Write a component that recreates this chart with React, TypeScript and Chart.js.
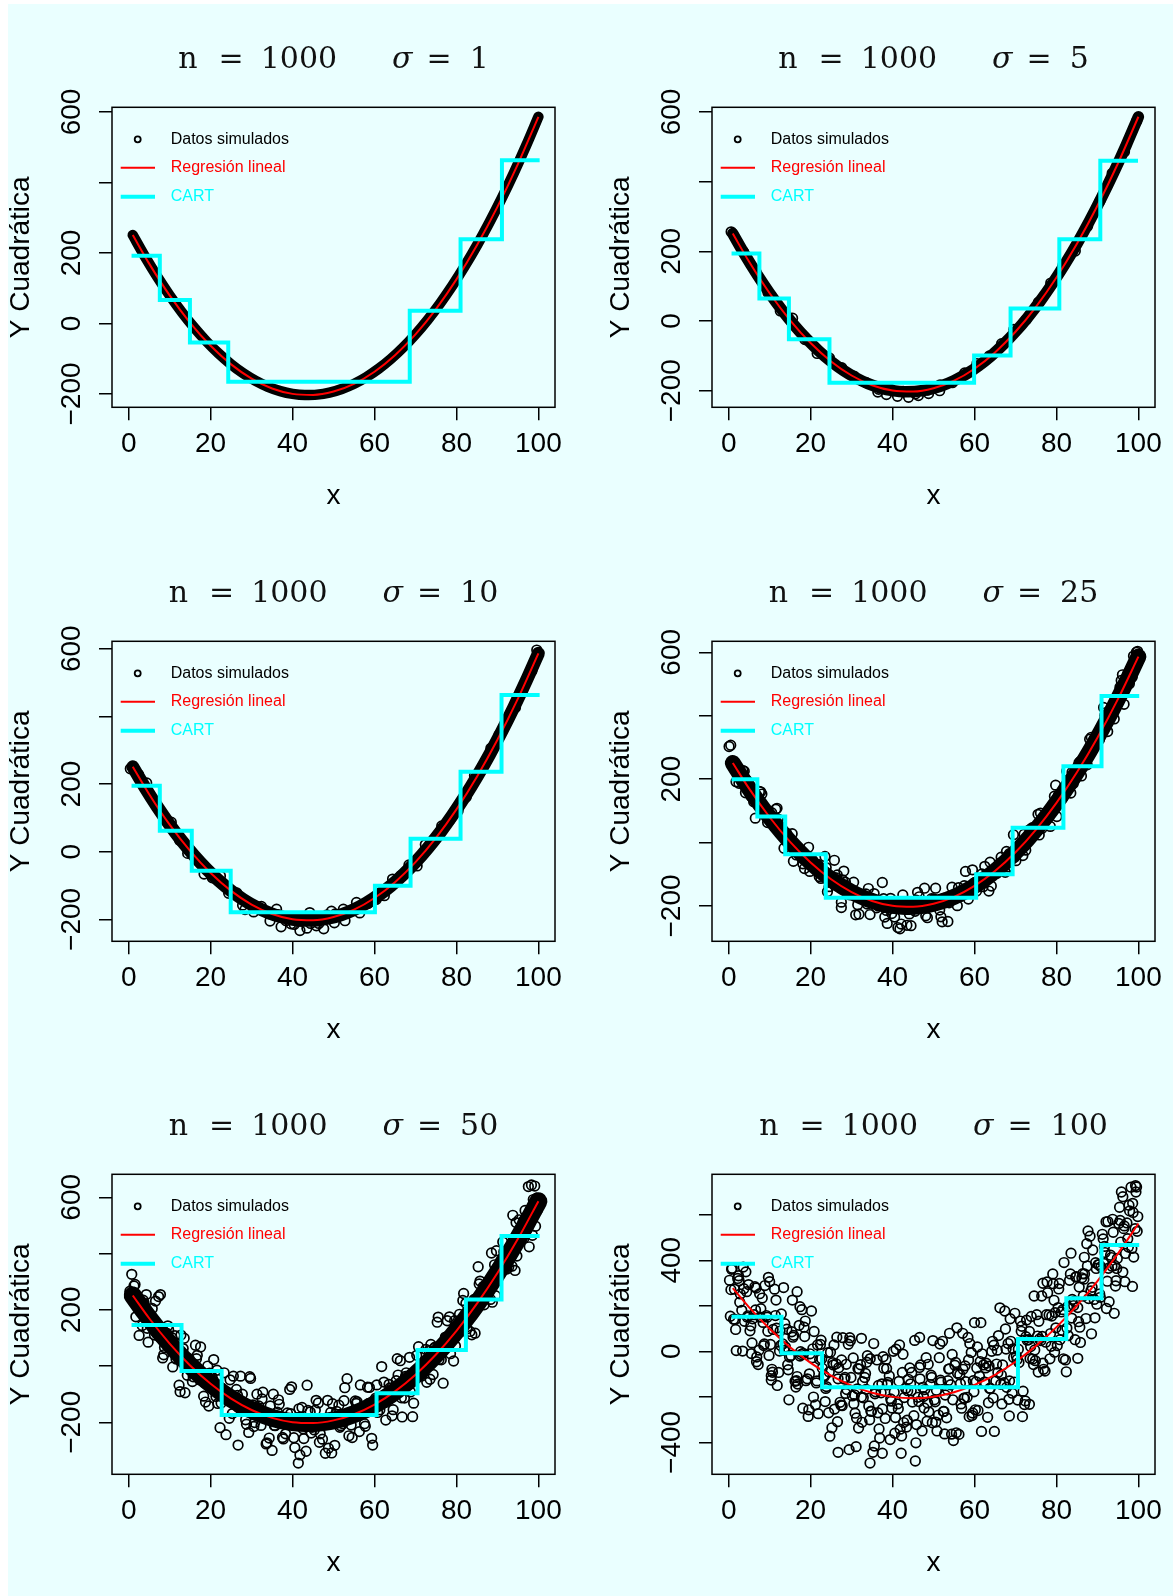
import React, { useEffect, useRef } from 'react';
import { Chart, registerables } from 'chart.js';

Chart.register(...registerables);

// ---------------- data ----------------
const nObs = 1000;
const xTicks = [0, 20, 40, 60, 80, 100];
const yTicksA = [-200, 0, 200, 400, 600];
const yTicksB = [-400, -200, 0, 200, 400, 600];
const yLabA = [-200, 0, 200, 600];
const yLabB = [-200, 200, 600];
const yLabC = [-400, 0, 400];

// fitted quadratic regression
const regX = [1, 5, 10, 15, 20, 25, 30, 35, 40, 45, 50, 55, 60, 65, 70, 75, 80, 85, 90, 95, 100];
const regY = [251.0, 169.9, 79.8, 2.1, -63.1, -115.9, -156.3, -184.2, -199.6, -202.6, -193.1, -171.2, -136.8, -90.0, -30.8, 40.9, 125.1, 221.7, 330.8, 452.3, 586.3];
const regY100 = [277.4, 193.2, 99.2, 17.8, -51.0, -107.2, -150.8, -181.8, -200.2, -206.0, -199.2, -179.8, -147.8, -103.2, -46.0, 23.8, 106.2, 201.2, 308.8, 429.0, 561.8];

// centre of the dense band of simulated points
const bandX = [1, 4, 7, 10, 13, 16, 19, 22, 25, 28, 31, 34, 37, 40, 43, 46, 49, 52, 55, 58, 61, 64, 67, 70, 73, 76, 79, 82, 85, 88, 91, 94, 97, 100];
const bandY = [251.0, 189.4, 132.4, 79.8, 31.7, -11.9, -51.1, -85.7, -115.9, -141.6, -162.8, -179.6, -191.8, -199.6, -202.9, -201.7, -196.0, -185.8, -171.2, -152.1, -128.5, -100.4, -67.8, -30.8, 10.8, 56.8, 107.3, 162.3, 221.7, 285.7, 354.1, 427.0, 504.4, 586.3];

// CART step predictions (start of each step, last = end of final step)
const cartX1 = [0.7, 7.6, 14.95, 24.3, 68.6, 81.0, 91.1, 100.3];
const cartY1 = [192, 67, -54, -165, 36, 239, 463, 463];
const cartX2 = [0.7, 7.5, 14.7, 24.6, 59.9, 68.8, 80.7, 90.7, 99.9];
const cartY2 = [194, 65, -52, -177, -99, 36, 235, 460, 460];
const cartX3 = [0.7, 7.6, 15.4, 24.9, 60.1, 68.8, 81.0, 91.0, 100.3];
const cartY3 = [195, 62, -56, -179, -101, 38, 236, 463, 463];
const cartX4 = [0.7, 7.0, 13.8, 23.7, 60.4, 69.3, 81.7, 91.0, 100.2];
const cartY4 = [200, 82, -37, -174, -100, 47, 241, 462, 462];
const cartX5 = [0.7, 12.9, 22.7, 60.5, 70.5, 82.3, 91.0, 100.3];
const cartY5 = [146, -18, -174, -97, 57, 237, 462, 462];
const cartX6 = [0.7, 12.9, 22.8, 70.6, 82.4, 91.0, 100.2];
const cartY6 = [152, -9, -158, 54, 233, 467, 467];

// visible simulated points (estimated)
const sim1: [number, number][] = [];
const sim5: [number, number][] = [[0.6,256],[3.6,199],[6.6,144],[9.6,81],[12.6,29],[15.6,8],[18.6,-53],[21.6,-93],[24.6,-106],[27.6,-134],[30.6,-158],[33.6,-177],[36.6,-196],[39.6,-196],[42.6,-202],[45.6,-209],[48.6,-198],[51.6,-183],[54.6,-177],[57.6,-149],[60.6,-122],[63.6,-100],[66.6,-65],[69.6,-24],[72.6,4],[75.6,54],[78.6,109],[81.6,161],[84.6,201],[87.6,272],[90.6,344],[93.6,424],[96.6,486],[99.6,574],[38.5,-211],[41.2,-216],[43.9,-219],[46.3,-214],[48.8,-208],[36.4,-204],[51.5,-200]];
const sim10: [number, number][] = [[0.4,245],[2.4,228],[4.4,203],[6.4,144],[8.4,106],[10.4,87],[12.4,34],[14.4,-5],[16.4,-18],[18.4,-66],[20.4,-77],[22.4,-72],[24.4,-123],[26.4,-122],[28.4,-171],[30.4,-158],[32.4,-162],[34.4,-184],[36.4,-186],[38.4,-204],[40.4,-215],[42.4,-198],[44.4,-212],[46.4,-212],[48.4,-187],[50.4,-184],[52.4,-170],[54.4,-173],[56.4,-181],[58.4,-153],[60.4,-141],[62.4,-130],[64.4,-81],[66.4,-71],[68.4,-39],[70.4,-42],[72.4,21],[74.4,35],[76.4,76],[78.4,94],[80.4,120],[82.4,162],[84.4,225],[86.4,253],[88.4,306],[90.4,346],[92.4,386],[94.4,426],[96.4,486],[98.4,534],[34.5,-205],[37.2,-222],[39.6,-213],[41.8,-233],[43.5,-226],[45.8,-219],[47.6,-228],[50.2,-210],[52.8,-204],[36.1,-170],[44.2,-180],[49.5,-176],[55.6,-150],[30.5,-178],[27.8,-158],[99.6,596]];
const sim25: [number, number][] = [[0.5,307],[1.5,231],[2.5,187],[3.5,227],[4.5,195],[5.5,145],[6.5,77],[7.5,161],[8.5,108],[9.5,63],[10.5,94],[11.5,105],[12.5,32],[13.5,-18],[14.5,19],[15.5,28],[16.5,-39],[17.5,-32],[18.5,-82],[19.5,-15],[20.5,-56],[21.5,-85],[22.5,-113],[23.5,-44],[24.5,-139],[25.5,-113],[26.5,-102],[27.5,-188],[28.5,-125],[29.5,-165],[30.5,-125],[31.5,-196],[32.5,-167],[33.5,-162],[34.5,-227],[35.5,-161],[36.5,-200],[37.5,-126],[38.5,-214],[39.5,-176],[40.5,-235],[41.5,-199],[42.5,-165],[43.5,-261],[44.5,-193],[45.5,-217],[46.5,-171],[47.5,-202],[48.5,-237],[49.5,-177],[50.5,-144],[51.5,-213],[52.5,-176],[53.5,-249],[54.5,-141],[55.5,-168],[56.5,-170],[57.5,-136],[58.5,-178],[59.5,-86],[60.5,-153],[61.5,-112],[62.5,-75],[63.5,-153],[64.5,-90],[65.5,-97],[66.5,-46],[67.5,-94],[68.5,-35],[69.5,25],[70.5,-29],[71.5,0],[72.5,-24],[73.5,41],[74.5,26],[75.5,89],[76.5,45],[77.5,84],[78.5,51],[79.5,146],[80.5,149],[81.5,140],[82.5,225],[83.5,156],[84.5,212],[85.5,252],[86.5,248],[87.5,245],[88.5,332],[89.5,327],[90.5,325],[91.5,426],[92.5,350],[93.5,427],[94.5,437],[95.5,490],[96.5,436],[97.5,535],[98.5,522],[99.5,577],
[0.1,303],[2.1,220],[4.1,157],[6.1,129],[8.1,153],[10.1,83],[12.1,74],[14.1,30],[16.1,-18],[18.1,-67],[20.1,-72],[22.1,-107],[24.1,-155],[26.1,-111],[28.1,-90],[30.1,-157],[32.1,-174],[34.1,-145],[36.1,-206],[38.1,-235],[40.1,-202],[42.1,-257],[44.1,-225],[46.1,-157],[48.1,-231],[50.1,-178],[52.1,-250],[54.1,-174],[56.1,-142],[58.1,-159],[60.1,-126],[62.1,-139],[64.1,-137],[66.1,-66],[68.1,-77],[70.1,-57],[72.1,26],[74.1,47],[76.1,93],[78.1,97],[80.1,82],[82.1,154],[84.1,186],[86.1,210],[88.1,326],[90.1,343],[92.1,410],[94.1,390],[96.1,529],[98.1,542],
[1.8,192],[3.8,225],[5.8,154],[7.8,160],[9.8,78],[11.8,108],[13.8,28],[15.8,-59],[17.8,-49],[19.8,-91],[21.8,-69],[23.8,-79],[25.8,-56],[27.8,-118],[29.8,-153],[31.8,-226],[33.8,-194],[35.8,-190],[37.8,-177],[39.8,-224],[41.8,-272],[43.8,-203],[45.8,-182],[47.8,-144],[49.8,-181],[51.8,-234],[53.8,-190],[55.8,-199],[57.8,-91],[59.8,-128],[61.8,-99],[63.8,-62],[65.8,-79],[67.8,-28],[69.8,-46],[71.8,-41],[73.8,43],[75.8,24],[77.8,95],[79.8,181],[81.8,171],[83.8,222],[85.8,256],[87.8,286],[89.8,316],[91.8,401],[93.8,407],[95.8,511],[97.8,501],[99.8,603],
[99.5,600],[98.8,588],[41.3,-268],[44.5,-262],[38.7,-255],[27.5,-205],[31.0,-228]];
const sim50: [number, number][] = [[0.3,266],[1.3,285],[2.3,214],[3.3,144],[4.3,254],[5.3,179],[6.3,110],[7.3,247],[8.3,29],[9.3,117],[10.3,70],[11.3,108],[12.3,-68],[13.3,62],[14.3,-33],[15.3,8],[16.3,74],[17.3,-49],[18.3,-107],[19.3,0],[20.3,-37],[21.3,-108],[22.3,-219],[23.3,-24],[24.3,-104],[25.3,-169],[26.3,-83],[27.3,-36],[28.3,-159],[29.3,-236],[30.3,-138],[31.3,-100],[32.3,-211],[33.3,-176],[34.3,-256],[35.3,-100],[36.3,-164],[37.3,-203],[38.3,-241],[39.3,-83],[40.3,-255],[41.3,-187],[42.3,-147],[43.3,-303],[44.3,-163],[45.3,-227],[46.3,-131],[47.3,-260],[48.3,-188],[49.3,-165],[50.3,-282],[51.3,-139],[52.3,-205],[53.3,-45],[54.3,-210],[55.3,-124],[56.3,-233],[57.3,-152],[58.3,-75],[59.3,-257],[60.3,-114],[61.3,-156],[62.3,-57],[63.3,-112],[64.3,-177],[65.3,-52],[66.3,19],[67.3,-114],[68.3,-37],[69.3,-180],[70.3,38],[71.3,-13],[72.3,-14],[73.3,55],[74.3,-30],[75.3,156],[76.3,22],[77.3,103],[78.3,175],[79.3,18],[80.3,141],[81.3,124],[82.3,223],[83.3,123],[84.3,237],[85.3,353],[86.3,239],[87.3,290],[88.3,237],[89.3,360],[90.3,323],[91.3,441],[92.3,345],[93.3,415],[94.3,340],[95.3,520],[96.3,516],[97.3,487],[98.3,644],[99.3,497],
[0.75,326],[1.75,175],[2.75,225],[3.75,224],[4.75,85],[5.75,205],[6.75,117],[7.75,254],[8.75,66],[9.75,129],[10.75,-3],[11.75,56],[12.75,110],[13.75,-95],[14.75,26],[15.75,-38],[16.75,38],[17.75,-40],[18.75,-128],[19.75,-25],[20.75,23],[21.75,-133],[22.75,-79],[23.75,-244],[24.75,-49],[25.75,-123],[26.75,-147],[27.75,-100],[28.75,-207],[29.75,-44],[30.75,-201],[31.75,-142],[32.75,-93],[33.75,-273],[34.75,-173],[35.75,-212],[36.75,-136],[37.75,-259],[38.75,-167],[39.75,-74],[40.75,-211],[41.75,-182],[42.75,-258],[43.75,-158],[44.75,-218],[45.75,-122],[46.75,-241],[47.75,-194],[48.75,-292],[49.75,-134],[50.75,-161],[51.75,-212],[52.75,-77],[53.75,-248],[54.75,-172],[55.75,-127],[56.75,-170],[57.75,-214],[58.75,-76],[59.75,-124],[60.75,-165],[61.75,-2],[62.75,-192],[63.75,-78],[64.75,-98],[65.75,-32],[66.75,-181],[67.75,-24],[68.75,-92],[69.75,-24],[70.75,69],[71.75,-27],[72.75,-58],[73.75,77],[74.75,67],[75.75,23],[76.75,-61],[77.75,161],[78.75,108],[79.75,71],[80.75,184],[81.75,258],[82.75,162],[83.75,111],[84.75,236],[85.75,302],[86.75,218],[87.75,280],[88.75,227],[89.75,410],[90.75,373],[91.75,362],[92.75,351],[93.75,536],[94.75,391],[95.75,487],[96.75,553],[97.75,424],[98.75,592],[99.75,554],
[0.55,256],[1.55,290],[2.55,109],[3.55,234],[4.55,134],[5.55,170],[6.55,231],[7.55,103],[8.55,40],[9.55,143],[10.55,101],[11.55,25],[12.55,-91],[13.55,99],[14.55,14],[15.55,-55],[16.55,26],[17.55,68],[18.55,-60],[19.55,-142],[20.55,-49],[21.55,-15],[22.55,-131],[23.55,-102],[24.55,-186],[25.55,-36],[26.55,-104],[27.55,-148],[28.55,-191],[29.55,-38],[30.55,-215],[31.55,-151],[32.55,-117],[33.55,-277],[34.55,-142],[35.55,-211],[36.55,-120],[37.55,-254],[38.55,-186],[39.55,-169],[40.55,-290],[41.55,-152],[42.55,-223],[43.55,-68],[44.55,-238],[45.55,-157],[46.55,-271],[47.55,-194],[48.55,-122],[49.55,-309],[50.55,-171],[51.55,-218],[52.55,-123],[53.55,-184],[54.55,-254],[55.55,-133],[56.55,-67],[57.55,-205],[58.55,-133],[59.55,-281],[60.55,-67],[61.55,-124],[62.55,-130],[63.55,-65],[64.55,-155],[65.55,26],[66.55,-113],[67.55,-37],[68.55,31],[69.55,-132],[70.55,-14],[71.55,-35],[72.55,59],[73.55,-47],[74.55,63],[75.55,174],[76.55,55],[77.55,102],[78.55,44],[79.55,161],[80.55,119],[81.55,233],[82.55,132],[83.55,197],[84.55,117],[85.55,292],[86.55,283],[87.55,250],[88.55,402],[89.55,250],[90.55,343],[91.55,406],[92.55,380],[93.55,355],[94.55,510],[95.55,480],[96.55,456],[97.55,638],[98.55,465],[99.55,597],
[99.1,640],[26.7,-281],[41.8,-316],[41.4,-345],[35.0,-300],[48.0,-310]];
const sim100: [number, number][] = [[0.2,312],[1.2,141],[2.2,320],[3.2,180],[4.2,349],[5.2,90],[6.2,161],[7.2,-58],[8.2,234],[9.2,157],[10.2,30],[11.2,273],[12.2,-93],[13.2,32],[14.2,97],[15.2,-18],[16.2,-132],[17.2,114],[18.2,-9],[19.2,-121],[20.2,177],[21.2,-235],[22.2,-36],[23.2,-106],[24.2,-6],[25.2,-336],[26.2,-55],[27.2,-224],[28.2,-122],[29.2,31],[30.2,-196],[31.2,-293],[32.2,-59],[33.2,-115],[34.2,-240],[35.2,-444],[36.2,-38],[37.2,-182],[38.2,-295],[39.2,-108],[40.2,0],[41.2,-231],[42.2,-372],[43.2,-163],[44.2,-73],[45.2,-283],[46.2,-202],[47.2,-350],[48.2,-28],[49.2,-146],[50.2,-213],[51.2,-280],[52.2,44],[53.2,-292],[54.2,-147],[55.2,-61],[56.2,-365],[57.2,-79],[58.2,-202],[59.2,-5],[60.2,-257],[61.2,-109],[62.2,-60],[63.2,-290],[64.2,0],[65.2,-130],[66.2,191],[67.2,-138],[68.2,34],[69.2,-184],[70.2,-21],[71.2,133],[72.2,-234],[73.2,51],[74.2,-34],[75.2,161],[76.2,47],[77.2,-87],[78.2,160],[79.2,297],[80.2,25],[81.2,173],[82.2,-38],[83.2,312],[84.2,201],[85.2,192],[86.2,323],[87.2,144],[88.2,506],[89.2,228],[90.2,381],[91.2,514],[92.2,188],[93.2,422],[94.2,377],[95.2,562],[96.2,348],[97.2,564],[98.2,721],[99.2,539],
[0.55,271],[1.55,140],[2.55,310],[3.55,370],[4.55,150],[5.55,-10],[6.55,182],[7.55,253],[8.55,25],[9.55,88],[10.55,-79],[11.55,225],[12.55,89],[13.55,4],[14.55,-81],[15.55,225],[16.55,-129],[17.55,-2],[18.55,65],[19.55,-257],[20.55,11],[21.55,-130],[22.55,49],[23.55,-221],[24.55,-91],[25.55,-60],[26.55,-309],[27.55,-38],[28.55,-185],[29.55,60],[30.55,-230],[31.55,-76],[32.55,-312],[33.55,-167],[34.55,-32],[35.55,-416],[36.55,-150],[37.55,-253],[38.55,-76],[39.55,-209],[40.55,-360],[41.55,-132],[42.55,-13],[43.55,-303],[44.55,-173],[45.55,-482],[46.55,-71],[47.55,-199],[48.55,-227],[49.55,-115],[50.55,-311],[51.55,32],[52.55,-264],[53.55,-129],[54.55,-14],[55.55,-358],[56.55,-142],[57.55,-206],[58.55,-38],[59.55,-271],[60.55,-73],[61.55,126],[62.55,-135],[63.55,-65],[64.55,-205],[65.55,5],[66.55,-104],[67.55,98],[68.55,-130],[69.55,-27],[70.55,-214],[71.55,110],[72.55,64],[73.55,-32],[74.55,243],[75.55,-91],[76.55,65],[77.55,161],[78.55,78],[79.55,-4],[80.55,274],[81.55,183],[82.55,102],[83.55,431],[84.55,51],[85.55,282],[86.55,243],[87.55,375],[88.55,77],[89.55,389],[90.55,252],[91.55,386],[92.55,570],[93.55,374],[94.55,310],[95.55,575],[96.55,551],[97.55,458],[98.55,285],[99.55,722],
[0.85,365],[1.85,3],[2.85,252],[3.85,132],[4.85,293],[5.85,143],[6.85,-25],[7.85,187],[8.85,289],[9.85,-18],[10.85,96],[11.85,-150],[12.85,164],[13.85,19],[14.85,-25],[15.85,70],[16.85,-144],[17.85,183],[18.85,-129],[19.85,-11],[20.85,87],[21.85,-274],[22.85,-74],[23.85,-155],[24.85,-4],[25.85,-254],[26.85,-72],[27.85,60],[28.85,-168],[29.85,-115],[30.85,-272],[31.85,-78],[32.85,-204],[33.85,-19],[34.85,-264],[35.85,-178],[36.85,-381],[37.85,-74],[38.85,-137],[39.85,-249],[40.85,9],[41.85,-342],[42.85,-203],[43.85,-123],[44.85,-223],[45.85,-322],[46.85,-60],[47.85,-168],[48.85,-266],[49.85,47],[50.85,-350],[51.85,-136],[52.85,-192],[53.85,-77],[54.85,-392],[55.85,-96],[56.85,-250],[57.85,-133],[58.85,34],[59.85,-178],[60.85,-260],[61.85,-11],[62.85,-52],[63.85,-162],[64.85,-352],[65.85,69],[66.85,-60],[67.85,-158],[68.85,44],[69.85,167],[70.85,-49],[71.85,-175],[72.85,49],[73.85,153],[74.85,-41],[75.85,54],[76.85,-79],[77.85,257],[78.85,155],[79.85,103],[80.85,51],[81.85,390],[82.85,69],[83.85,228],[84.85,328],[85.85,39],[86.85,340],[87.85,232],[88.85,445],[89.85,207],[90.85,371],[91.85,434],[92.85,218],[93.85,523],[94.85,408],[95.85,700],[96.85,430],[97.85,617],[98.85,414],[99.85,592],
[0.4,154],[1.4,273],[2.4,332],[3.4,1],[4.4,262],[5.4,112],[6.4,284],[7.4,5],[8.4,127],[9.4,150],[10.4,-107],[11.4,157],[12.4,1],[13.4,280],[14.4,-59],[15.4,86],[16.4,-157],[17.4,-21],[18.4,106],[19.4,-286],[20.4,-28],[21.4,-139],[22.4,30],[23.4,-110],[24.4,-270],[25.4,-50],[26.4,62],[27.4,-237],[28.4,-115],[29.4,-432],[30.4,-29],[31.4,-165],[32.4,-201],[33.4,-97],[34.4,-301],[35.4,34],[36.4,-270],[37.4,-143],[38.4,-36],[39.4,-388],[40.4,-180],[41.4,-252],[42.4,-93],[43.4,-333],[44.4,-143],[45.4,48],[46.4,-221],[47.4,-159],[48.4,-307],[49.4,-105],[50.4,-222],[51.4,-28],[52.4,-264],[53.4,-169],[54.4,-364],[55.4,-49],[56.4,-103],[57.4,-206],[58.4,61],[59.4,-282],[60.4,-134],[61.4,-45],[62.4,-136],[63.4,-226],[64.4,44],[65.4,-56],[66.4,-145],[67.4,177],[68.4,-211],[69.4,11],[70.4,-36],[71.4,88],[72.4,-218],[73.4,87],[74.4,-58],[75.4,67],[76.4,243],[77.4,40],[78.4,-33],[79.4,224],[80.4,192],[81.4,91],[82.4,-90],[83.4,340],[84.4,220],[85.4,130],[86.4,341],[87.4,473],[88.4,265],[89.4,147],[90.4,380],[91.4,494],[92.4,308],[93.4,412],[94.4,287],[95.4,633],[96.4,539],[97.4,495],[98.4,452],[99.4,700],
[0.7,360],[1.7,96],[2.7,216],[3.7,275],[4.7,156],[5.7,37],[6.7,278],[7.7,150],[8.7,32],[9.7,325],[10.7,-92],[11.7,102],[12.7,26],[13.7,121],[14.7,-213],[15.7,62],[16.7,-111],[17.7,-14],[18.7,133],[19.7,-99],[20.7,-201],[21.7,28],[22.7,-33],[23.7,-163],[24.7,-373],[25.7,28],[26.7,-121],[27.7,-239],[28.7,-57],[29.7,46],[30.7,-191],[31.7,-337],[32.7,-133],[33.7,-48],[34.7,-263],[35.7,-187],[36.7,-341],[37.7,-24],[38.7,-147],[39.7,-219],[40.7,-291],[41.7,28],[42.7,-313],[43.7,-173],[44.7,-93],[45.7,-402],[46.7,-121],[47.7,-249],[48.7,-57],[49.7,-314],[50.7,-171],[51.7,-127],[52.7,-363],[53.7,-78],[54.7,-213],[55.7,103],[56.7,-231],[57.7,-64],[58.7,-287],[59.7,-129],[60.7,19],[61.7,-352],[62.7,-73],[63.7,-163],[64.7,27],[65.7,-93],[66.7,-231],[67.7,10],[68.7,143],[69.7,-135],[70.7,9],[71.7,-287],[72.7,137],[73.7,21],[74.7,6],[75.7,132],[76.7,-52],[77.7,305],[78.7,22],[79.7,170],[80.7,298],[81.7,-33],[82.7,196],[83.7,146],[84.7,326],[85.7,106],[86.7,317],[87.7,529],[88.7,281],[89.7,364],[90.7,237],[91.7,461],[92.7,365],[93.7,580],[94.7,364],[95.7,480],[96.7,306],[97.7,642],[98.7,610],[99.7,527],
[99.3,728],[96.2,679],[98.6,650],[26.7,-444],[31.1,-419],[34.5,-491],[37.5,-448],[42.1,-448],[60.0,126],[53.9,79],[57.1,79],[46.6,61],[32.4,57],[10.0,306],[16.7,262],[17.4,196],[73.4,-233],[68.5,-284],[94.1,167],[92.1,569],[85.2,-31],[76.7,299],[79.1,340],[86.8,413],[18.1,-250],[10.4,-126],[6.8,-46]];

// ---------------- panel table ----------------
const sigmas = ['1', '5', '10', '25', '50', '100'];
const panels = [
  { sigma: sigmas[0], cx: cartX1, cy: cartY1, reg: regY, pts: sim1, band: 10.5, ymin: -237.7, ymax: 613.3, yTicks: yTicksA, yLab: yLabA },
  { sigma: sigmas[1], cx: cartX2, cy: cartY2, reg: regY, pts: sim5, band: 11.5, ymin: -247.6, ymax: 613.5, yTicks: yTicksA, yLab: yLabA },
  { sigma: sigmas[2], cx: cartX3, cy: cartY3, reg: regY, pts: sim10, band: 13, ymin: -264.9, ymax: 621.9, yTicks: yTicksA, yLab: yLabA },
  { sigma: sigmas[3], cx: cartX4, cy: cartY4, reg: regY, pts: sim25, band: 16, ymin: -311.4, ymax: 634.7, yTicks: yTicksA, yLab: yLabB },
  { sigma: sigmas[4], cx: cartX5, cy: cartY5, reg: regY, pts: sim50, band: 18, ymin: -384.9, ymax: 681.8, yTicks: yTicksA, yLab: yLabB },
  { sigma: sigmas[5], cx: cartX6, cy: cartY6, reg: regY100, pts: sim100, band: 0, ymin: -540.4, ymax: 777.7, yTicks: yTicksB, yLab: yLabC },
];

const SANS = "'Liberation Sans', Arial, Helvetica, sans-serif";
const SERIF = "'DejaVu Serif', serif";
const fmt = (v: number) => String(v).replace('-', '\u2212');

const decor = {
  id: 'decor',
  afterDraw(chart: any) {
    const { ctx, chartArea: a } = chart;
    const o = chart.options.plugins.decor || {};
    ctx.save();
    // box
    ctx.strokeStyle = '#000';
    ctx.lineWidth = 1.5;
    ctx.strokeRect(a.left, a.top, a.right - a.left, a.bottom - a.top);

    // title  n = 1000   σ = s
    const parts = [
      { t: 'n', f: `30px ${SERIF}` },
      { t: '=', f: `30px ${SERIF}` },
      { t: String(nObs), f: `30px ${SERIF}` },
      { t: '\u03C3', f: `italic 30px ${SERIF}` },
      { t: '=', f: `30px ${SERIF}` },
      { t: o.sigma, f: `30px ${SERIF}` },
    ];
    const gaps = [21, 17, 55, 14, 18];
    const widths = parts.map((p) => { ctx.font = p.f; return ctx.measureText(p.t).width; });
    const total = widths.reduce((s: number, w: number) => s + w, 0) + gaps.reduce((s, g) => s + g, 0);
    let x = (a.left + a.right) / 2 - total / 2;
    const by = a.top - 39;
    ctx.fillStyle = '#111';
    ctx.textBaseline = 'alphabetic';
    ctx.textAlign = 'left';
    parts.forEach((p, i) => {
      ctx.font = p.f;
      ctx.fillText(p.t, x, by);
      x += widths[i] + (gaps[i] || 0);
    });

    // legend
    const lx = a.left, ty = a.top;
    const rows = [ty + 32, ty + 60.4, ty + 89.4];
    ctx.font = `16px ${SANS}`;
    ctx.textBaseline = 'middle';
    ctx.lineWidth = 1.8;
    ctx.strokeStyle = '#000';
    ctx.beginPath();
    ctx.arc(lx + 25.7, rows[0], 3, 0, Math.PI * 2);
    ctx.stroke();
    ctx.fillStyle = '#000';
    ctx.fillText('Datos simulados', lx + 58.7, rows[0]);
    ctx.strokeStyle = '#FF0000';
    ctx.lineWidth = 2;
    ctx.beginPath();
    ctx.moveTo(lx + 8.7, rows[1]);
    ctx.lineTo(lx + 43, rows[1]);
    ctx.stroke();
    ctx.fillStyle = '#FF0000';
    ctx.fillText('Regresión lineal', lx + 58.7, rows[1]);
    ctx.strokeStyle = '#00FFFF';
    ctx.lineWidth = 4;
    ctx.beginPath();
    ctx.moveTo(lx + 8.7, rows[2]);
    ctx.lineTo(lx + 43, rows[2]);
    ctx.stroke();
    ctx.fillStyle = '#00FFFF';
    ctx.fillText('CART', lx + 58.7, rows[2]);
    ctx.restore();
  },
};

function Panel({ cfg, left, top }: { cfg: any; left: number; top: number }) {
  const ref = useRef<HTMLCanvasElement>(null);
  useEffect(() => {
    const grid = { display: true, drawOnChartArea: false, drawTicks: true, tickLength: 13, color: '#000', lineWidth: 1.5 };
    const chart = new Chart(ref.current as HTMLCanvasElement, {
      type: 'scatter',
      data: {
        datasets: [
          {
            label: 'CART',
            data: cfg.cx.map((x: number, i: number) => ({ x, y: cfg.cy[i] })),
            showLine: true, stepped: true, borderColor: '#00FFFF', borderWidth: 4,
            pointRadius: 0, order: 0, borderJoinStyle: 'miter', borderCapStyle: 'butt',
          },
          {
            label: 'Regresión lineal',
            data: regX.map((x, i) => ({ x, y: cfg.reg[i] })),
            showLine: true, borderColor: '#FF0000', borderWidth: 2, pointRadius: 0,
            cubicInterpolationMode: 'monotone', order: 1,
          },
          {
            label: 'Datos simulados',
            data: cfg.pts.map((p: [number, number]) => ({ x: p[0], y: p[1] })),
            showLine: false, pointRadius: 4.8, pointBorderWidth: 1.7, pointBorderColor: '#000',
            pointBackgroundColor: 'rgba(0,0,0,0)', order: 2,
          },
          {
            label: 'band',
            data: bandX.map((x, i) => ({ x, y: bandY[i] })),
            showLine: cfg.band > 0, borderColor: '#000', borderWidth: cfg.band, pointRadius: 0,
            cubicInterpolationMode: 'monotone', borderCapStyle: 'round', borderJoinStyle: 'round', order: 3,
          },
        ] as any,
      },
      options: {
        responsive: false,
        animation: false,
        devicePixelRatio: 1,
        events: [],
        layout: { padding: { left: 0, top: 103.3, right: 18, bottom: 0 } },
        plugins: {
          legend: { display: false },
          tooltip: { enabled: false },
          decor: { sigma: cfg.sigma },
        } as any,
        scales: {
          x: {
            type: 'linear', position: 'bottom', min: -4.07, max: 104.05,
            afterBuildTicks: (s: any) => { s.ticks = xTicks.map((v) => ({ value: v })); },
            afterFit: (s: any) => { s.height = 129.7; },
            grid, border: { display: false },
            ticks: {
              autoSkip: false, maxRotation: 0, minRotation: 0, padding: 7, color: '#000',
              font: { size: 28, family: SANS, lineHeight: 1.2 },
              callback: (v: any) => fmt(v),
            },
            title: {
              display: true, text: 'x', color: '#000',
              font: { size: 28, family: SANS, lineHeight: 1.2 }, padding: { top: 0, bottom: 23.5 },
            },
          },
          y: {
            type: 'linear', position: 'left', min: cfg.ymin, max: cfg.ymax,
            afterBuildTicks: (s: any) => { s.ticks = cfg.yTicks.map((v: number) => ({ value: v })); },
            afterFit: (s: any) => { s.width = 104; },
            grid, border: { display: false },
            ticks: {
              autoSkip: false, minRotation: 90, maxRotation: 90, crossAlign: 'center', padding: -4.5, color: '#000',
              font: { size: 28, family: SANS, lineHeight: 1.2 },
              callback: (v: any) => (cfg.yLab.includes(v) ? fmt(v) : ''),
            },
            title: {
              display: true, text: 'Y Cuadrática', color: '#000',
              font: { size: 28, family: SANS, lineHeight: 1.2 }, padding: { top: -3.3, bottom: 0 },
            },
          },
        } as any,
      },
      plugins: [decor],
    } as any);
    return () => chart.destroy();
  }, [cfg]);
  return (
    <canvas
      ref={ref}
      width={565}
      height={533}
      style={{ position: 'absolute', left, top, width: 565, height: 533, display: 'block' }}
    />
  );
}

const colLeft = [0, 600];
const rowTop = [0, 534, 1067];

export default function App() {
  return (
    <div
      style={{
        position: 'absolute', left: 8, top: 4, width: 1165, height: 1592,
        background: '#EAFFFF', overflow: 'hidden',
      }}
    >
      {panels.map((p, i) => (
        <Panel key={i} cfg={p} left={colLeft[i % 2]} top={rowTop[Math.floor(i / 2)]} />
      ))}
    </div>
  );
}
